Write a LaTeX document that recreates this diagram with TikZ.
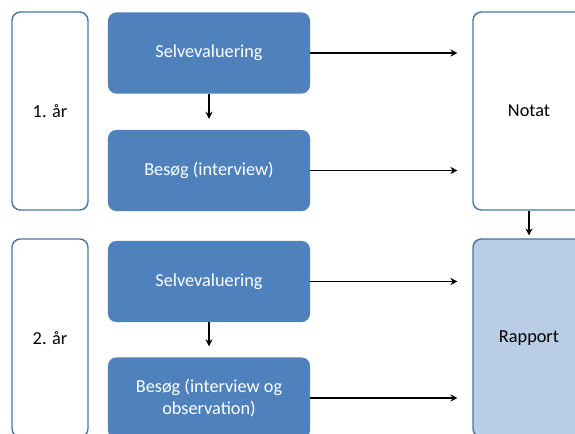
\documentclass[tikz,border=0pt]{standalone}
\usepackage{fontspec}
\setmainfont{Carlito}
\usetikzlibrary{arrows.meta}
\definecolor{accent}{HTML}{4F81BD}
\definecolor{lightaccent}{HTML}{B9CDE5}
\definecolor{edge}{HTML}{4A75A8}
\begin{document}
\begin{tikzpicture}[x=0.025cm,y=-0.025cm,font=\fontsize{13}{15.5}\selectfont,
  yearbox/.style={draw=edge,line width=1pt,fill=white,rounded corners=6pt,
    minimum width=1.9cm,minimum height=4.95cm},
  stepbox/.style={fill=accent,text=white,rounded corners=6pt,align=center,
    minimum width=5.05cm,minimum height=2.03cm},
  outbox/.style={draw=edge,line width=1pt,rounded corners=6pt,
    minimum width=2.8cm,minimum height=4.95cm},
  arr/.style={-{Stealth[length=5pt,width=5pt]},line width=1pt}]
  \clip (0,0) rectangle (575,434);
  \node[yearbox] (yr1) at (50,111) {1. år};
  \node[yearbox] (yr2) at (50,338) {2. år};
  \node[stepbox] (selv1) at (209,53) {Selvevaluering};
  \node[stepbox] (besog1) at (209,170.5) {Besøg (interview)};
  \node[stepbox] (selv2) at (209,281.5) {Selvevaluering};
  \node[stepbox] (besog2) at (209,398) {Besøg (interview og\\observation)};
  \node[outbox,fill=white] (notat) at (529,111) {Notat};
  \node[outbox,fill=lightaccent] (rapport) at (529,338) {Rapport};
  \foreach \s in {selv1,besog1,selv2,besog2}
    \draw[arr,shorten >=0.37cm] (\s.east) -- (\s.east -| notat.west);
  \draw[arr,shorten >=0.27cm] (selv1) -- (besog1);
  \draw[arr,shorten >=0.27cm] (selv2) -- (besog2);
  \draw[arr,shorten >=2pt] (notat) -- (rapport);
\end{tikzpicture}
\end{document}
